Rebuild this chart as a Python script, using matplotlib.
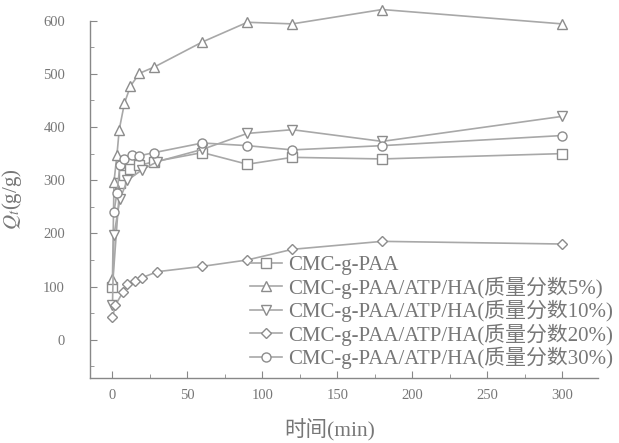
import matplotlib
matplotlib.use('Agg')
import matplotlib.pyplot as plt
from matplotlib.ticker import MultipleLocator

plt.rcParams['font.family'] = ['Liberation Serif', 'Noto Sans CJK SC']
plt.rcParams['mathtext.fontset'] = 'stix'

# 数据
t_paa = [0, 5, 8, 12, 18, 28, 60, 90, 120, 180, 300]
q_paa = [100, 295, 310, 322, 328, 335, 352, 330, 343, 340, 350]

t_5 = [0, 1, 3, 4.5, 8, 12, 18, 28, 60, 90, 120, 180, 300]
q_5 = [115, 297, 348, 395, 445, 477, 501, 513, 560, 597, 594, 621, 594]

t_10 = [0, 1, 5, 10, 20, 30, 60, 90, 120, 180, 300]
q_10 = [65, 197, 265, 300, 320, 335, 358, 388, 395, 373, 420]

t_20 = [0, 2, 7, 10, 15, 20, 30, 60, 90, 120, 180, 300]
q_20 = [42, 65, 90, 105, 110, 117, 128, 138, 150, 170, 185, 180]

t_30 = [1, 3, 5, 8, 13, 18, 28, 60, 90, 120, 180, 300]
q_30 = [241, 276, 329, 340, 348, 346, 352, 370, 365, 357, 365, 384]

labels = ['CMC-g-PAA',
          'CMC-g-PAA/ATP/HA(质量分数5%)',
          'CMC-g-PAA/ATP/HA(质量分数10%)',
          'CMC-g-PAA/ATP/HA(质量分数20%)',
          'CMC-g-PAA/ATP/HA(质量分数30%)']
markers = ['s', '^', 'v', 'D', 'o']
series = [(t_paa, q_paa), (t_5, q_5), (t_10, q_10), (t_20, q_20), (t_30, q_30)]

line_c = '#a8a8a8'
edge_c = '#8c8c8c'
text_c = '#777777'

fig = plt.figure(figsize=(6.19, 4.43), dpi=100)
ax = fig.add_axes([0.1454, 0.1467, 0.8206, 0.8066])

for (t, q), m, lab in zip(series, markers, labels):
    ms = 5.5 if m == 'D' else 6.5
    ax.plot(t, q, color=line_c, lw=1.2, marker=m, ms=ms, mfc='white',
            mec=edge_c, mew=1.0, label=lab, clip_on=False)

ax.set_xlim(-15, 324)
ax.set_ylim(-72, 600)
ax.set_xticks([0, 50, 100, 150, 200, 250, 300])
ax.set_yticks([0, 100, 200, 300, 400, 500, 600])
ax.xaxis.set_minor_locator(MultipleLocator(25))
ax.yaxis.set_minor_locator(MultipleLocator(50))

for s in ['top', 'right']:
    ax.spines[s].set_visible(False)
for s in ['left', 'bottom']:
    ax.spines[s].set_color('#888888')
    ax.spines[s].set_linewidth(1.0)

ax.tick_params(which='both', direction='in', colors='#888888', labelcolor=text_c,
               labelsize=10.5)
ax.tick_params(which='major', length=5)
ax.tick_params(which='minor', length=3)
ax.tick_params(axis='y', pad=18)
ax.tick_params(axis='x', pad=8)

ax.set_xlabel('时间(min)', fontsize=15.5, color=text_c)
ax.xaxis.set_label_coords(0.472, -0.115)
ax.set_ylabel('$Q_t$(g/g)', fontsize=15, color=text_c)
ax.yaxis.set_label_coords(-0.13, 0.5)

leg = ax.legend(loc='upper left', bbox_to_anchor=(0.315, 0.343), frameon=False,
                fontsize=15, handlelength=1.55, handletextpad=0.3,
                labelspacing=0.06, borderaxespad=0, borderpad=0)
for txt in leg.get_texts():
    txt.set_color(text_c)

fig.savefig('out.png', dpi=100)
